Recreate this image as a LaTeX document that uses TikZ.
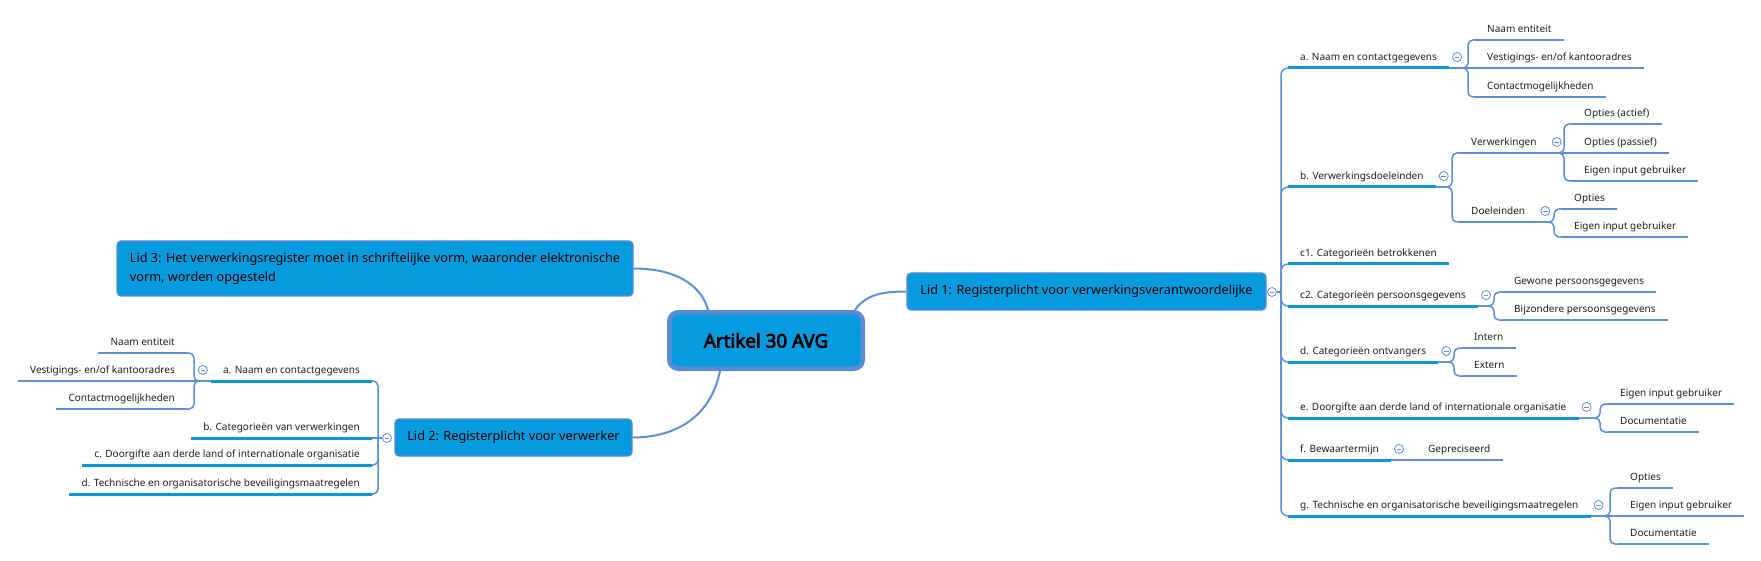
\documentclass[tikz,border=0pt]{standalone}
\usepackage{fontspec}
\setmainfont{Noto Sans}
\newfontfamily\ctrfont{Noto Sans}[FakeBold=3.5]
\usetikzlibrary{calc}
\definecolor{nodeblue}{HTML}{069BDE}
\definecolor{borderblue}{HTML}{5A8BD4}
\definecolor{connblue}{HTML}{5B8FD9}
\definecolor{ulblue}{HTML}{0A98DA}
\definecolor{txt}{HTML}{1E1E1E}
\pgfdeclarelayer{background}
\pgfsetlayers{background,main}
\begin{document}
\begin{tikzpicture}[x=1pt,y=-1pt,
  lidbox/.style={rectangle, rounded corners=4pt, fill=nodeblue, draw=borderblue, line width=1.2pt, text=black, inner sep=0pt, font=\fontsize{12.7}{19}\selectfont},
  centralbox/.style={rectangle, rounded corners=9pt, fill=nodeblue, draw=borderblue, line width=4.5pt, text=black, font=\ctrfont\fontsize{18.8}{22}\selectfont, minimum width=193.5pt, minimum height=56.5pt},
  tone/.style={inner xsep=12pt, inner ysep=4.5pt, text height=8pt, text depth=2.5pt, font=\fontsize{10}{12}\selectfont, text=txt},
  rt/.style={tone, anchor=south west},
  lt/.style={tone, anchor=south east},
  conn/.style={draw=connblue, line width=1.5pt},
  mainconn/.style={draw=connblue, line width=2pt},
  ulone/.style={draw=ulblue, line width=3pt},
  ultwo/.style={draw=connblue, line width=2pt},
  mcirc/.style={circle, draw=connblue, fill=white, line width=0.8pt, minimum size=9pt, inner sep=0pt,
    path picture={\draw[connblue, line width=0.8pt] ([xshift=-2.4pt]path picture bounding box.center) -- ([xshift=2.4pt]path picture bounding box.center);}}
]
\useasboundingbox (0,0) rectangle (1761,561);

% ---------- main boxes ----------
\node[centralbox] (C) at (766,340.5) {Artikel 30 AVG};
\node[lidbox, minimum width=359pt, minimum height=37pt] (L1) at (1086.5,291.5) {Lid 1: Registerplicht voor verwerkingsverantwoordelijke};
\node[lidbox, minimum width=237pt, minimum height=37pt] (L2) at (513.5,437.5) {Lid 2: Registerplicht voor verwerker};
\node[lidbox, minimum width=516pt, minimum height=55pt, align=left] (L3) at (375,268.5) {Lid 3: Het verwerkingsregister moet in schriftelijke vorm, waaronder elektronische\\vorm, worden opgesteld};

\coordinate (c1s) at (855,310);
\coordinate (c3s) at (708,310);
\coordinate (c2s) at (720,371);

% ---------- right side (Lid 1) ----------
\node[rt] (ra) at (1288,68) {a. Naam en contactgegevens};
\node[rt] (rb) at (1288,187) {b. Verwerkingsdoeleinden};
\node[rt] (rc1) at (1288,264) {c1. Categorieën betrokkenen};
\node[rt] (rc2) at (1288,306) {c2. Categorieën persoonsgegevens};
\node[rt] (rd) at (1288,362) {d. Categorieën ontvangers};
\node[rt] (re) at (1288,418) {e. Doorgifte aan derde land of internationale organisatie};
\node[rt] (rf) at (1288,460) {f. Bewaartermijn};
\node[rt] (rg) at (1288,516) {g. Technische en organisatorische beveiligingsmaatregelen};

\node[rt] (ra1) at (1475,40) {Naam entiteit};
\node[rt] (ra2) at (1475,68) {Vestigings- en/of kantooradres};
\node[rt] (ra3) at (1475,97) {Contactmogelijkheden};
\node[rt] (rb1) at (1459,153) {Verwerkingen};
\node[rt] (rb2) at (1459,222) {Doeleinden};
\node[rt] (rb11) at (1572,124) {Opties (actief)};
\node[rt] (rb12) at (1572,153) {Opties (passief)};
\node[rt] (rb13) at (1572,181) {Eigen input gebruiker};
\node[rt] (rb21) at (1562,209) {Opties};
\node[rt] (rb22) at (1562,237) {Eigen input gebruiker};
\node[rt] (rc21) at (1502,292) {Gewone persoonsgegevens};
\node[rt] (rc22) at (1502,320) {Bijzondere persoonsgegevens};
\node[rt] (rd1) at (1462,348) {Intern};
\node[rt] (rd2) at (1462,376) {Extern};
\node[rt] (re1) at (1608,404) {Eigen input gebruiker};
\node[rt] (re2) at (1608,432) {Documentatie};
\node[rt] (rf1) at (1416,460) {Gepreciseerd};
\node[rt] (rg1) at (1618,488) {Opties};
\node[rt] (rg2) at (1618,516) {Eigen input gebruiker};
\node[rt] (rg3) at (1618,544) {Documentatie};

% ---------- left side (Lid 2) ----------
\node[lt] (la) at (372,381) {a. Naam en contactgegevens};
\node[lt] (lb) at (372,438) {b. Categorieën van verwerkingen};
\node[lt] (lc) at (372,465) {c. Doorgifte aan derde land of internationale organisatie};
\node[lt] (ld) at (372,494) {d. Technische en organisatorische beveiligingsmaatregelen};
\node[lt] (la1) at (187,353) {Naam entiteit};
\node[lt] (la2) at (187,381) {Vestigings- en/of kantooradres};
\node[lt] (la3) at (187,409) {Contactmogelijkheden};

% junctions
\coordinate (L1sp) at (1281,292);
\coordinate (L2sp) at (378,438);
\coordinate (raJ) at (1468,68);
\coordinate (rbJ) at (1452,187);
\coordinate (rb1J) at (1564,153);
\coordinate (rb2J) at (1554,222);
\coordinate (rc2J) at (1494,306);
\coordinate (rdJ) at (1454,362);
\coordinate (reJ) at (1600,418);
\coordinate (rgJ) at (1610,516);
\coordinate (laJ) at (194,381);

% collapse markers
\node[mcirc] (L1m) at (1272,292) {};
\node[mcirc] (L2m) at (387,438) {};
\node[mcirc] (ram) at ($(ra.south east)+(8,-11)$) {};
\node[mcirc] (rbm) at ($(rb.south east)+(8,-11)$) {};
\node[mcirc] (rb1m) at ($(rb1.south east)+(8,-11)$) {};
\node[mcirc] (rb2m) at ($(rb2.south east)+(8,-11)$) {};
\node[mcirc] (rc2m) at ($(rc2.south east)+(8,-11)$) {};
\node[mcirc] (rdm) at ($(rd.south east)+(8,-11)$) {};
\node[mcirc] (rem) at ($(re.south east)+(8,-11)$) {};
\node[mcirc] (rfm) at ($(rf.south east)+(8,-11)$) {};
\node[mcirc] (rgm) at ($(rg.south east)+(8,-11)$) {};
\node[mcirc] (lam) at ($(la.south west)+(-8,-11)$) {};

\begin{pgfonlayer}{background}
% main connectors
\draw[mainconn] (c1s) .. controls (866,294) and (884,291.5) .. (L1.west);
\draw[mainconn] (L3.east) .. controls (682,268.5) and (703,290) .. (c3s);
\draw[mainconn] (c2s) .. controls (710,420) and (672,437.5) .. (L2.east);

% Lid 1 spine
\draw[conn] (L1m.east) -- (L1sp);
\foreach \n in {ra,rb,rc1,rc2,rd,re,rf,rg}
  \draw[conn, rounded corners=7pt] (L1sp) |- (\n.south west);

% Lid 2 spine
\draw[conn] (L2m.west) -- (L2sp);
\foreach \n in {la,lc,ld}
  \draw[conn, rounded corners=5pt] (L2sp) |- (\n.south east);
\draw[conn] (L2sp) -- (lb.south east);

% sub connectors right
\draw[conn] (ra.south east) -- (ra2.south west);
\foreach \c in {ra1,ra3} \draw[conn, rounded corners=5pt] (ra.south east) -- (raJ) |- (\c.south west);
\foreach \c in {rb1,rb2} \draw[conn, rounded corners=5pt] (rb.south east) -- (rbJ) |- (\c.south west);
\draw[conn] (rb1.south east) -- (rb12.south west);
\foreach \c in {rb11,rb13} \draw[conn, rounded corners=5pt] (rb1.south east) -- (rb1J) |- (\c.south west);
\foreach \c in {rb21,rb22} \draw[conn, rounded corners=5pt] (rb2.south east) -- (rb2J) |- (\c.south west);
\foreach \c in {rc21,rc22} \draw[conn, rounded corners=5pt] (rc2.south east) -- (rc2J) |- (\c.south west);
\foreach \c in {rd1,rd2} \draw[conn, rounded corners=5pt] (rd.south east) -- (rdJ) |- (\c.south west);
\foreach \c in {re1,re2} \draw[conn, rounded corners=5pt] (re.south east) -- (reJ) |- (\c.south west);
\draw[conn] (rf.south east) -- (rf1.south west);
\draw[conn] (rg.south east) -- (rg2.south west);
\foreach \c in {rg1,rg3} \draw[conn, rounded corners=5pt] (rg.south east) -- (rgJ) |- (\c.south west);

% sub connectors left
\draw[conn] (la.south west) -- (la2.south east);
\foreach \c in {la1,la3} \draw[conn, rounded corners=5pt] (la.south west) -- (laJ) |- (\c.south east);

% underlines level 1
\foreach \n in {ra,rb,rc1,rc2,rd,re,rf,rg,la,lb,lc,ld}
  \draw[ulone] (\n.south west) -- (\n.south east);
% underlines level 2
\foreach \n in {ra1,ra2,ra3,rb1,rb2,rb11,rb12,rb13,rb21,rb22,rc21,rc22,rd1,rd2,re1,re2,rf1,rg1,rg2,rg3,la1,la2,la3}
  \draw[ultwo] (\n.south west) -- (\n.south east);
\end{pgfonlayer}
\end{tikzpicture}
\end{document}
